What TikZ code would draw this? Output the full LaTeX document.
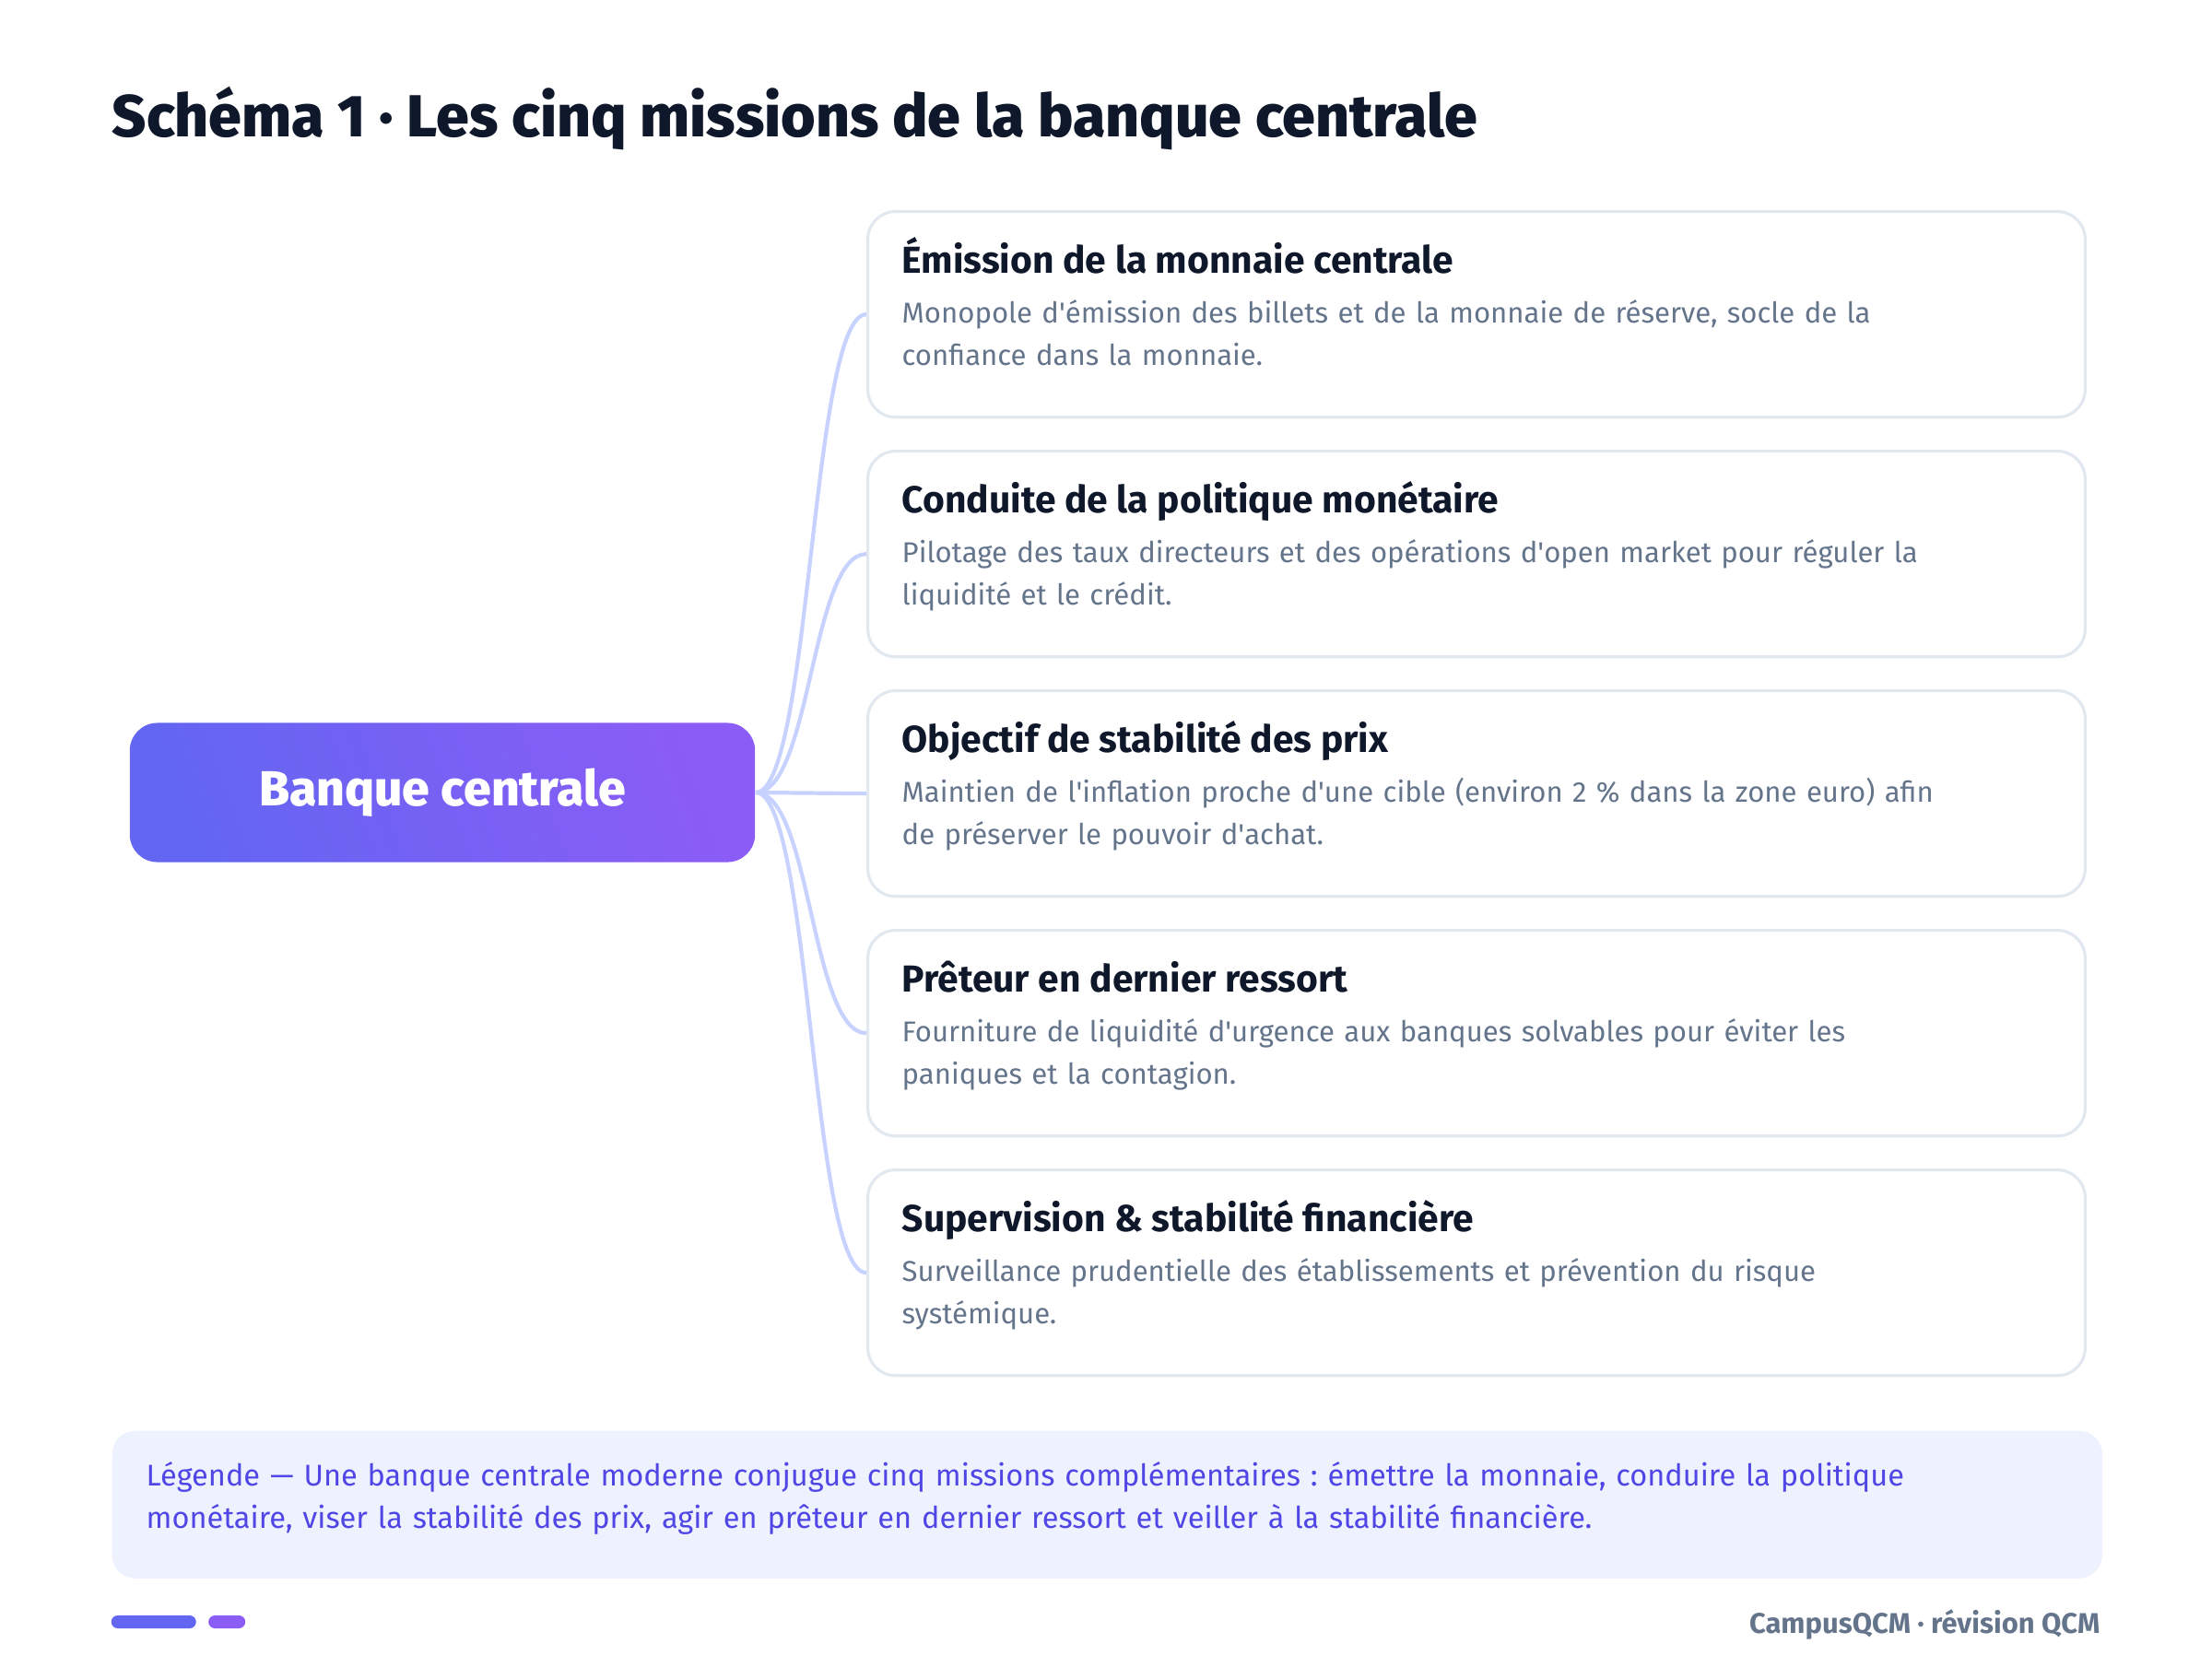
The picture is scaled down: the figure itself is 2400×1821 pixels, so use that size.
\documentclass[tikz,border=0pt]{standalone}
\usepackage{fontspec}
\setmainfont{Fira Sans}
\IfFontExistsTF{Fira Sans ExtraBold}{\newfontfamily\heavyface{Fira Sans ExtraBold}}{\newcommand{\heavyface}{\bfseries}}
\usepackage{xcolor}
\usetikzlibrary{positioning}
\definecolor{inkdark}{HTML}{0F172A}
\definecolor{inkgray}{HTML}{64748B}
\definecolor{cardline}{HTML}{E2E8F0}
\definecolor{branchline}{HTML}{C7D2FE}
\definecolor{indigoA}{HTML}{6366F1}
\definecolor{violetA}{HTML}{8B5CF6}
\definecolor{legendfill}{HTML}{EEF2FF}
\definecolor{legendink}{HTML}{4F46E5}
\newcommand{\qs}{\textquotesingle}
\tikzstyle{mission} = [draw=cardline, line width=0.9pt, fill=white,
    rectangle, rounded corners=0.3cm, minimum width=13.2cm, minimum height=2.23cm, anchor=north west]
\tikzstyle{missiontitle} = [anchor=base west, inner sep=0, text=inkdark, font=\fontsize{11.6}{13}\selectfont\bfseries]
\tikzstyle{missiontext} = [anchor=base west, inner sep=0, text=inkgray, text width=13cm, align=left,
    font=\fontsize{8.85}{13.1}\selectfont]
\tikzstyle{core} = [rectangle, rounded corners=0.3cm, left color=indigoA, right color=violetA, shading angle=110,
    minimum width=6.78cm, minimum height=1.51cm, text=white, font=\fontsize{15.2}{16}\selectfont\heavyface]
\tikzstyle{branch} = [draw=branchline, line width=1.2pt]
\tikzstyle{pill} = [rectangle, rounded corners=0.07cm, minimum height=0.14cm, inner sep=0, anchor=west]

\begin{document}
\frenchspacing
\begin{tikzpicture}[x=0.01cm, y=-0.01cm]
\useasboundingbox (0,0) rectangle (2400,1821);
\node[anchor=base west, inner sep=0, text=inkdark, font=\fontsize{18.3}{20}\selectfont\heavyface] (title) at (121,148)
    {Schéma 1 · Les cinq missions de la banque centrale};
\node[core] (bank) at (480,860) {Banque centrale};
\node[mission] (m1) at (940,228) {};
\node[mission] (m2) at (940,488) {};
\node[mission] (m3) at (940,748) {};
\node[mission] (m4) at (940,1008) {};
\node[mission] (m5) at (940,1268) {};
\draw[branch] (bank.east) .. controls +(60,0) and +(-60,0) .. (m1.west);
\draw[branch] (bank.east) .. controls +(60,0) and +(-60,0) .. (m2.west);
\draw[branch] (bank.east) -- (m3.west);
\draw[branch] (bank.east) .. controls +(60,0) and +(-60,0) .. (m4.west);
\draw[branch] (bank.east) .. controls +(60,0) and +(-60,0) .. (m5.west);
\node[missiontitle] (t1) at ([shift={(38,68)}]m1.north west) {Émission de la monnaie centrale};
\node[missiontext] (d1) at ([shift={(38,122)}]m1.north west)
    {Monopole d\qs émission des billets et de la monnaie de réserve, socle de la\\confiance dans la monnaie.};
\node[missiontitle] (t2) at ([shift={(38,68)}]m2.north west) {Conduite de la politique monétaire};
\node[missiontext] (d2) at ([shift={(38,122)}]m2.north west)
    {Pilotage des taux directeurs et des opérations d\qs open market pour réguler la\\liquidité et le crédit.};
\node[missiontitle] (t3) at ([shift={(38,68)}]m3.north west) {Objectif de stabilité des prix};
\node[missiontext] (d3) at ([shift={(38,122)}]m3.north west)
    {Maintien de l\qs inflation proche d\qs une cible (environ 2 \% dans la zone euro) afin\\de préserver le pouvoir d\qs achat.};
\node[missiontitle] (t4) at ([shift={(38,68)}]m4.north west) {Prêteur en dernier ressort};
\node[missiontext] (d4) at ([shift={(38,122)}]m4.north west)
    {Fourniture de liquidité d\qs urgence aux banques solvables pour éviter les\\paniques et la contagion.};
\node[missiontitle] (t5) at ([shift={(38,68)}]m5.north west) {Supervision \& stabilité financière};
\node[missiontext] (d5) at ([shift={(38,122)}]m5.north west)
    {Surveillance prudentielle des établissements et prévention du risque\\systémique.};
\node[rectangle, fill=legendfill, rounded corners=0.25cm, minimum width=21.58cm, minimum height=1.6cm,
    anchor=north west] (legend) at (121,1552) {};
\node[anchor=base west, inner sep=0, text=legendink, text width=21cm, align=left,
    font=\fontsize{9.25}{13.1}\selectfont] (legendtext) at ([shift={(37,60)}]legend.north west)
    {Légende — Une banque centrale moderne conjugue cinq missions complémentaires : émettre la monnaie, conduire la politique\\
    monétaire, viser la stabilité des prix, agir en prêteur en dernier ressort et veiller à la stabilité financière.};
\node[pill, fill=indigoA, minimum width=0.92cm] (p1) at (120,1760) {};
\node[pill, fill=violetA, minimum width=0.4cm, right=0.12cm of p1] (p2) {};
\node[anchor=base east, inner sep=0, text=inkgray, font=\fontsize{8.8}{10}\selectfont\bfseries] (brand) at (2279,1772)
    {CampusQCM · révision QCM};
\end{tikzpicture}
\end{document}
